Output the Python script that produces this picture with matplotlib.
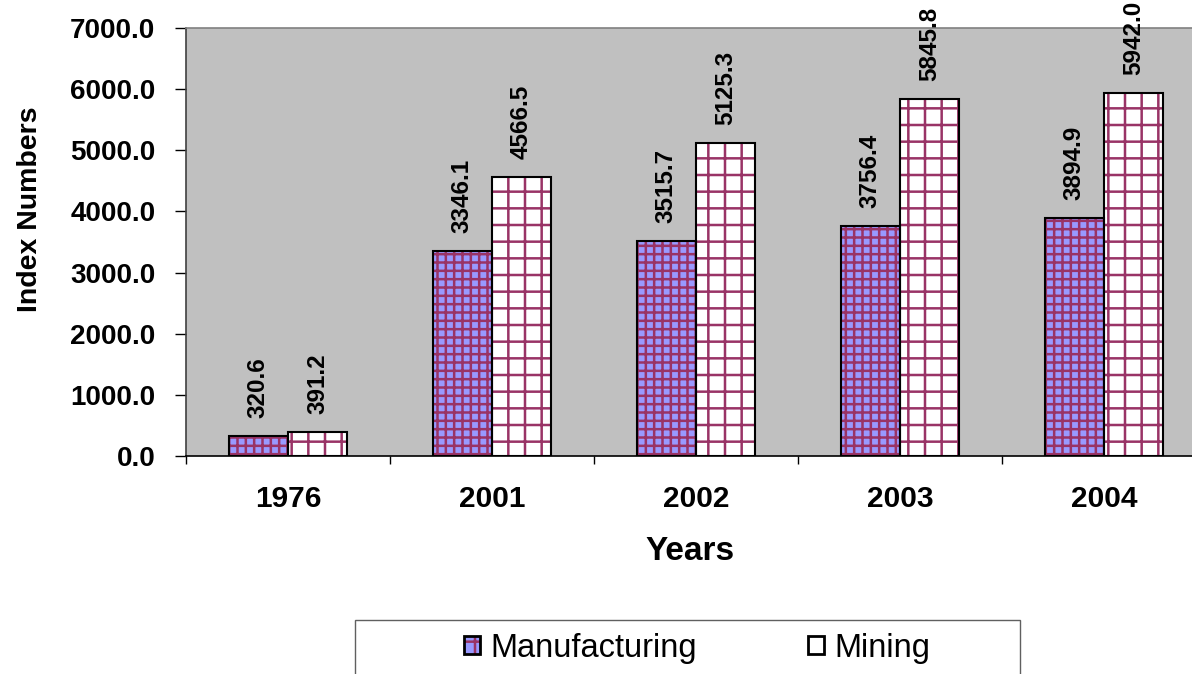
import numpy as np
import matplotlib
matplotlib.use("Agg")
import matplotlib.pyplot as plt
from matplotlib.patches import Patch, Rectangle
from matplotlib.legend_handler import HandlerTuple

plt.rcParams['font.family'] = ['Liberation Sans', 'DejaVu Sans']
plt.rcParams['hatch.color'] = '#993366'
plt.rcParams['hatch.linewidth'] = 1.8

# data
years = ['1976', '2001', '2002', '2003', '2004']
manufacturing = [320.6, 3346.1, 3515.7, 3756.4, 3894.9]
mining = [391.2, 4566.5, 5125.3, 5845.8, 5942.0]

fig = plt.figure(figsize=(11.92, 6.74), dpi=100)
ax = fig.add_axes([186/1192, 1-456/674, 1020/1192, 428/674])
ax.set_facecolor('#c0c0c0')

x = np.arange(len(years))
w = 0.29
purple = '#993366'
mfg_fill = '#9999ff'

# hatched fills first, then black outlines on top
ax.bar(x - w/2, manufacturing, w, color=mfg_fill, edgecolor=purple, hatch='++', linewidth=0)
ax.bar(x + w/2, mining, w, color='white', edgecolor=purple, hatch='+', linewidth=0)
ax.bar(x - w/2, manufacturing, w, fill=False, edgecolor='black', linewidth=1.5)
ax.bar(x + w/2, mining, w, fill=False, edgecolor='black', linewidth=1.5)

for xi, v in zip(x - w/2, manufacturing):
    ax.annotate('%.1f' % v, (xi, v), xytext=(0, 13), textcoords='offset points',
                rotation=90, ha='center', va='bottom', fontsize=17.5, fontweight='bold')
for xi, v in zip(x + w/2, mining):
    ax.annotate('%.1f' % v, (xi, v), xytext=(0, 13), textcoords='offset points',
                rotation=90, ha='center', va='bottom', fontsize=17.5, fontweight='bold')

ax.set_xlim(-0.5, len(years) - 0.5)
ax.set_ylim(0, 7000)
ax.set_yticks(np.arange(0, 7001, 1000))
ax.set_yticklabels(['%.1f' % t for t in np.arange(0, 7001, 1000)], fontsize=20, fontweight='bold')
ax.set_xticks(x)
ax.set_xticklabels(years, fontsize=21.5, fontweight='bold')
ax.set_xticks(np.arange(-0.5, len(years)), minor=True)
ax.tick_params(axis='x', which='major', length=0, pad=21)
ax.tick_params(axis='x', which='minor', length=6, width=1, color='black')
ax.tick_params(axis='y', length=8, width=1, pad=14, color='black')

ax.spines['top'].set_color('#808080')
ax.spines['left'].set_color('#404040')
ax.spines['bottom'].set_color('black')
ax.spines['right'].set_visible(False)
for s in ax.spines.values():
    s.set_linewidth(1.2)

fig.text(30/1192, 1-209/674, 'Index Numbers', rotation=90, ha='center', va='center',
         fontsize=20.5, fontweight='bold')
fig.text(690/1192, 1-552/674, 'Years', ha='center', va='center',
         fontsize=24, fontweight='bold')

# legend
fig.patches.append(Rectangle((355/1192, -0.05), 665/1192, 0.05 + 1-620/674,
                             transform=fig.transFigure, fill=False,
                             edgecolor='#606060', linewidth=1))
h1 = (Patch(facecolor=mfg_fill, edgecolor=purple, hatch='+', linewidth=0),
      Patch(fill=False, edgecolor='black', linewidth=2))
h2 = (Patch(facecolor='white', linewidth=0),
      Patch(fill=False, edgecolor='black', linewidth=2))
fig.legend([h1, h2], ['Manufacturing', 'Mining'],
           handler_map={tuple: HandlerTuple(ndivide=1, pad=0)},
           loc='center', bbox_to_anchor=(697/1192, 1-648/674), ncol=2, frameon=False,
           fontsize=23.5, handlelength=0.5, handleheight=0.5, handletextpad=0.3,
           columnspacing=3.4)

fig.savefig('out.png', dpi=100)
